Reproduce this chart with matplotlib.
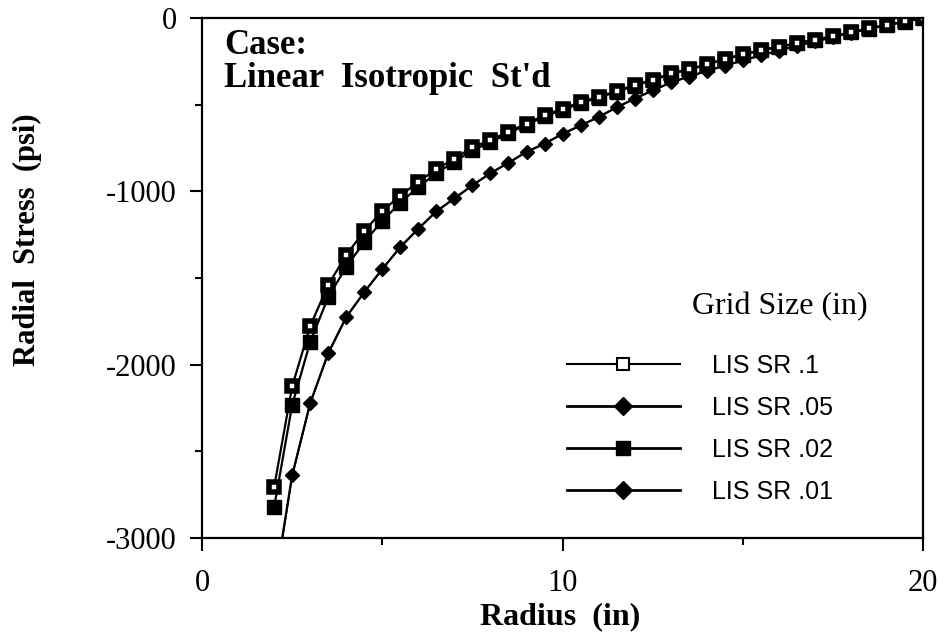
import matplotlib
matplotlib.use("Agg")
import matplotlib.pyplot as plt
from matplotlib.lines import Line2D

plt.rcParams['axes.unicode_minus'] = False

# radius (in)
radius = [2, 2.5, 3, 3.5, 4, 4.5, 5, 5.5, 6, 6.5, 7, 7.5, 8, 8.5, 9, 9.5, 10,
          10.5, 11, 11.5, 12, 12.5, 13, 13.5, 14, 14.5, 15, 15.5, 16, 16.5,
          17, 17.5, 18, 18.5, 19, 19.5, 20]

# radial stress (psi)
lis_sr_1 = [-2706, -2125, -1777, -1540, -1367, -1229, -1113, -1025, -945, -872,
            -812, -745, -705, -655, -610, -560, -525, -485, -455, -422, -387,
            -356, -320, -295, -268, -235, -210, -185, -165, -145, -125, -105,
            -82, -60, -40, -20, 0]
lis_sr_02 = [-2822, -2233, -1869, -1610, -1437, -1292, -1171, -1065, -975, -895,
             -830, -762, -717, -664, -617, -567, -531, -490, -459, -426, -390,
             -359, -323, -297, -270, -237, -212, -187, -167, -147, -126, -106,
             -83, -61, -41, -21, 0]
lis_sr_05 = [-3290, -2637, -2221, -1933, -1725, -1581, -1448, -1321, -1215, -1115,
             -1040, -965, -895, -835, -772, -725, -668, -620, -571, -515, -465,
             -418, -372, -338, -305, -275, -245, -215, -188, -160, -135, -110,
             -85, -62, -40, -20, 0]
lis_sr_01 = [-3310, -2645, -2226, -1937, -1728, -1583, -1450, -1323, -1217, -1117,
             -1042, -966, -896, -836, -773, -726, -669, -621, -572, -516, -466,
             -419, -373, -339, -306, -276, -246, -216, -189, -161, -136, -111,
             -86, -63, -41, -21, 0]

fig = plt.figure(figsize=(9.45, 6.41), dpi=100)
ax = fig.add_axes([0.2138, 0.1607, 0.7630, 0.8112])

# curves
ax.plot(radius, lis_sr_05, color='black', lw=1.6, marker='D', ms=7.5, mfc='black', mec='black')
ax.plot(radius, lis_sr_01, color='black', lw=1.2, marker='D', ms=4.5, mfc='black', mec='black')
ax.plot(radius, lis_sr_02, color='black', lw=1.6, marker='s', ms=10, mfc='black', mec='black')
ax.plot(radius, lis_sr_1, color='black', lw=1.6, marker='s', ms=7, mfc='white', mec='black', mew=4)

ax.set_xlim(0, 20)
ax.set_ylim(-3000, 0)
ax.set_xticks([0, 10, 20])
ax.set_xticks([5, 15], minor=True)
ax.set_yticks([0, -1000, -2000, -3000])
ax.set_yticks([-500, -1500, -2500], minor=True)

serif = 'Liberation Serif'
for s in ax.spines.values():
    s.set_linewidth(1.6)
ax.tick_params(which='major', direction='out', length=9, width=1.5)
ax.tick_params(which='minor', direction='out', length=5, width=1.5)
ax.tick_params(axis='y', which='major', pad=9)
ax.tick_params(axis='x', which='major', pad=13)
for lab in ax.get_xticklabels() + ax.get_yticklabels():
    lab.set_fontfamily(serif)
    lab.set_fontsize(22)

fig.text(27 / 945, 1 - 240 / 641, 'Radial  Stress  (psi)', rotation=90, ha='center', va='center',
         family=serif, weight='bold', fontsize=22)
fig.text(560 / 945, 1 - 617 / 641, 'Radius  (in)', ha='center', va='center',
         family=serif, weight='bold', fontsize=23)

fig.text(224 / 945, 1 - 29 / 641, "Case:\nLinear  Isotropic  St'd", ha='left', va='top',
         family=serif, weight='bold', fontsize=25, linespacing=1.0)

# legend
ax.text((692 - 202) / 721, (538 - 314) / 520, 'Grid Size (in)', transform=ax.transAxes,
        family=serif, fontsize=23, ha='left', va='baseline')
handles = [
    Line2D([], [], color='black', lw=1.5, marker='s', ms=8, mfc='white', mec='black', mew=1.5),
    Line2D([], [], color='black', lw=2.0, marker='D', ms=9, mfc='black', mec='black'),
    Line2D([], [], color='black', lw=2.0, marker='s', ms=10, mfc='black', mec='black'),
    Line2D([], [], color='black', lw=2.0, marker='D', ms=9, mfc='black', mec='black'),
]
labels = ['LIS SR .1', 'LIS SR .05', 'LIS SR .02', 'LIS SR .01']
ax.legend(handles, labels, loc='upper left', bbox_to_anchor=((567 - 202) / 721, (538 - 354) / 520),
          frameon=False, borderpad=0, borderaxespad=0, handlelength=4.5, handletextpad=1.3,
          labelspacing=0.72, prop={'family': 'Liberation Sans', 'size': 18})

fig.savefig('out.png', dpi=100)
